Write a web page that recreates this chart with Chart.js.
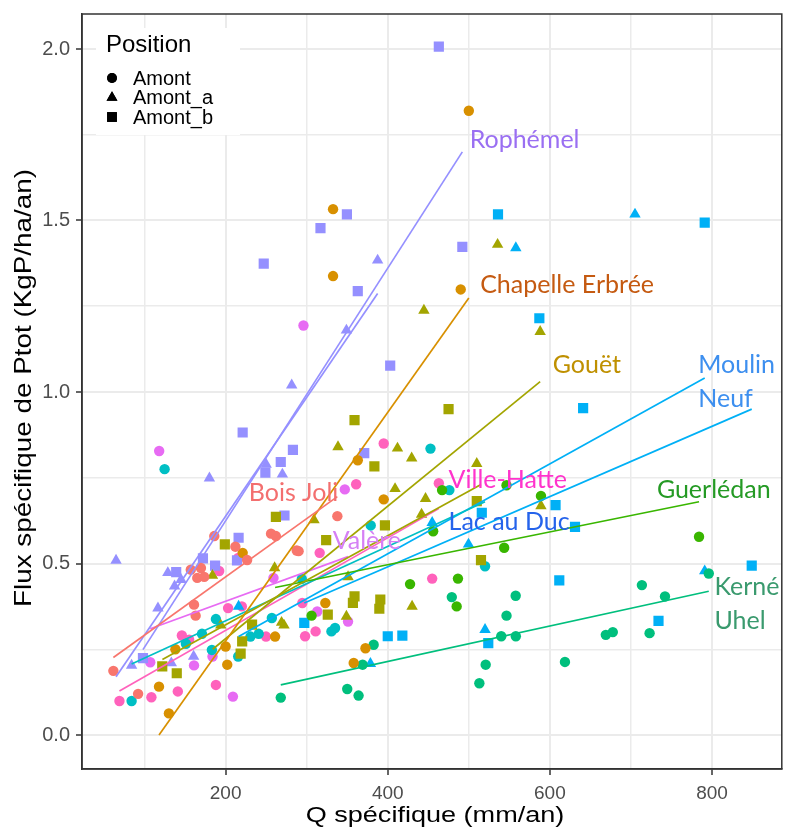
<!DOCTYPE html>
<html>
<head>
<meta charset="utf-8">
<script src="https://cdn.jsdelivr.net/npm/chart.js@4.4.1/dist/chart.umd.min.js"></script>
<style>
  body { margin: 0; background: #fff; }
</style>
</head>
<body>
<canvas id="chart" width="789" height="831"></canvas>
<script>
// points: [Q spécifique, flux Ptot]
const boisJoli = [[61.5,0.187],[92,0.12],[157,0.482],[161,0.38],[163,0.348],[165,0.458],[169.5,0.487],[173.6,0.461],
  [186,0.58],[212,0.549],[226.5,0.51],[256,0.587],[262,0.58],[287.7,0.538],[290,0.536],[337.8,0.638]]
const chapelle = [[117.8,0.141],[130,0.063],[138,0.25],[200,0.258],[202,0.205],[221,0.531],[261,0.287],[323,0.385],
  [332.5,1.533],[332.5,1.338],[358,0.21],[363,0.801],[372.5,0.253],[395,0.687],[490,1.299],[500,1.82]]
const gouetA = [[183.8,0.465],[194,0.32],[260.4,0.487],[269,0.328],[272,0.32],[309,0.627],[338.6,0.84],[349,0.346],
  [351,0.461],[409,0.718],[412,0.836],[429.5,0.807],[430,0.375],[441.7,0.643],[444.6,1.238],[446.6,0.689],
  [509.8,0.791],[535.5,1.43],[588,1.176],[589,0.668]]
const gouetB = [[121.8,0.2],[139.7,0.18],[199,0.556],[218.5,0.237],[220.4,0.273],[232.6,0.322],[262,0.636],[324,0.568],
  [326,0.351],[357,0.385],[359,0.404],[359,0.918],[383.5,0.783],[389.6,0.368],[390.8,0.395],[396.5,0.611],
  [475,0.95],[509.8,0.682],[515,0.51]]
const guerledan = [[306,0.348],[427.5,0.44],[456,0.594],[467,0.714],[485,0.375],[486.6,0.456],[543.6,0.546],
  [546.5,0.728],[589,0.697],[784,0.578]]
const kerneUhel = [[268,0.109],[350,0.134],[364,0.115],[369,0.205],[382.6,0.263],[479,0.402],[513,0.151],[520.8,0.205],
  [540,0.288],[546.5,0.348],[557.8,0.406],[558,0.288],[618.6,0.213],[669,0.292],[677.6,0.3],[713.5,0.437],
  [723,0.297],[742,0.404],[796,0.471]]
const lacAuDuc = [[84,0.099],[124.7,0.775],[151,0.266],[170.8,0.295],[183,0.248],[188,0.338],[215.5,0.229],[230.6,0.287],
  [240.8,0.295],[257,0.341],[294,0.455],[330.5,0.302],[335,0.312],[379,0.611],[452.7,0.835],[476,0.714],[520,0.492]]
const moulinA = [[216,0.375],[378.6,0.208],[454.8,0.619],[499.6,0.556],[520,0.307],[558,1.42],[705,1.518],[791,0.478]]
const moulinB = [[297,0.327],[400,0.288],[418,0.29],[516,0.648],[524,0.268],[536,1.518],[587,1.215],[607,0.67],
  [611.6,0.451],[631,0.607],[641,0.953],[734,0.333],[791,1.494],[849,0.494]]
const rophemelA = [[64.8,0.509],[84,0.203],[116.5,0.37],[128.7,0.473],[133,0.21],[137,0.434],[145,0.453],[160.5,0.229],
  [180,0.749],[250,0.789],[270,0.76],[281.5,1.02],[349,1.18],[387.5,1.384]]
const rophemelB = [[98,0.224],[139,0.475],[172,0.515],[187,0.494],[214,0.509],[216,0.575],[221,0.882],[249,0.765],
  [268,0.796],[272.6,0.64],[283,0.831],[247,1.374],[317,1.478],[349.6,1.518],[363,1.294],[371,0.822],
  [403,1.077],[463,2.007],[492,1.423]]
const valere = [[107,0.212],[118,0.828],[161,0.203],[183.8,0.229],[209,0.112],[259,0.458],[296,1.194],[313,0.36],
  [347,0.716],[351,0.331]]
const villeHatte = [[69,0.099],[108.4,0.11],[141,0.127],[146,0.29],[155,0.278],[188,0.146],[192,0.478],[203,0.37],
  [215.5,0.516],[220,0.375],[249.8,0.287],[294.6,0.385],[298,0.288],[311,0.302],[316,0.531],[361,0.731],
  [395,0.85],[454.8,0.456],[463,0.734]]

const groupPoints = [boisJoli, chapelle, gouetA, gouetB, guerledan, kerneUhel, lacAuDuc, moulinA, moulinB,
  rophemelA, rophemelB, valere, villeHatte]
const groupPosition = ['Amont','Amont','Amont_a','Amont_b','Amont','Amont','Amont','Amont_a','Amont_b',
  'Amont_a','Amont_b','Amont','Amont']
const groupColors = ['#F8766D','#D89000','#A3A500','#A3A500','#39B600','#00BF7D','#00BFC4','#00B0F6','#00B0F6',
  '#9590FF','#9590FF','#E76BF3','#FF62BC']
// regression line ends [x1, y1, x2, y2]
const fitEnds = [
  [61.5,0.226,337.8,0.695], [117.8,0.0,500,1.274], [184,0.25,588,1.03], [122,0.22,515,0.73],
  [261,0.43,784,0.68], [268,0.146,796,0.419], [84,0.207,520,0.68], [216,0.287,791,1.041],
  [297,0.385,849,0.95], [64.8,0.17,387.5,1.287], [98,0.249,492,1.70], [107,0.31,351,0.52],
  [69,0.128,463,0.66]
]

const xTicks = [100,200,300,400,500,600,700,800]
const yTicks = [0,0.25,0.5,0.75,1,1.25,1.5,1.75,2]

const siteLabels = ['Rophémel','Chapelle Erbrée','Gouët','Moulin','Neuf','Guerlédan','Ville-Hatte','Lac au Duc',
  'Bois Joli','Valère','Kerné','Uhel']
const siteLabelX = [501,514,603.5,783,783,732,475,475,228.5,332,803,803]
const siteLabelY = [1.735,1.312,1.079,1.079,0.98,0.714,0.743,0.621,0.706,0.566,0.431,0.332]
const siteLabelColors = ['#9a6ff2','#c55a11','#bf9000','#3d8fef','#3d8fef','#249a24','#ff33cc','#2563eb',
  '#f36f6f','#d580f5','#3a9a6e','#3a9a6e']

const shapes = { Amont: 'circle', Amont_a: 'triangle', Amont_b: 'rect' }
const radii = { circle: 5.2, triangle: 6.6, rect: 7.2 }

const datasets = []
groupPoints.forEach(function (pts, i) {
  const shape = shapes[groupPosition[i]]
  datasets.push({
    data: pts.map(p => ({ x: p[0], y: p[1] })),
    pointStyle: shape,
    pointRadius: radii[shape],
    backgroundColor: groupColors[i],
    borderWidth: 0,
    showLine: false,
    order: 2
  })
})
fitEnds.forEach(function (f, i) {
  datasets.push({
    data: [{ x: f[0], y: f[1] }, { x: f[2], y: f[3] }],
    showLine: true,
    borderColor: groupColors[i],
    borderWidth: 1.7,
    pointRadius: 0,
    order: 1
  })
})

const isMajorX = v => v % 200 === 0
const isMajorY = v => Math.abs(v * 2 - Math.round(v * 2)) < 1e-9

// stretched text, the figure's titles are wider than plain Arial
function stretchedText(ctx, text, x, y, rot, sx) {
  ctx.save()
  ctx.translate(x, y)
  ctx.rotate(rot)
  ctx.scale(sx, 1)
  ctx.fillText(text, 0, 0)
  ctx.restore()
}

const extras = {
  id: 'extras',
  afterDatasetsDraw(chart) {
    const ctx = chart.ctx
    const xs = chart.scales.x
    const ys = chart.scales.y
    const area = chart.chartArea
    ctx.save()

    // site labels
    ctx.font = '25px Lato'
    ctx.textBaseline = 'middle'
    ctx.textAlign = 'left'
    siteLabels.forEach(function (t, i) {
      ctx.fillStyle = siteLabelColors[i]
      ctx.fillText(t, xs.getPixelForValue(siteLabelX[i]), ys.getPixelForValue(siteLabelY[i]))
    })

    // legend box
    ctx.fillStyle = '#fff'
    ctx.fillRect(96, 28, 144, 107)
    ctx.fillStyle = '#000'
    ctx.font = '24px "Liberation Sans"'
    ctx.fillText('Position', 106, 45)
    ctx.font = '20px "Liberation Sans"'
    const entries = ['Amont', 'Amont_a', 'Amont_b']
    entries.forEach(function (t, k) {
      const cy = 78 + k * 19.5
      Chart.helpers.drawPoint(ctx, { pointStyle: shapes[t], radius: radii[shapes[t]] - 0.3, borderWidth: 0 }, 112, cy)
      ctx.fill()
      ctx.fillText(t, 133, cy + 1)
    })

    // panel border
    ctx.strokeStyle = '#333333'
    ctx.lineWidth = 1.5
    ctx.strokeRect(area.left, area.top, area.right - area.left, area.bottom - area.top)

    // axis titles
    ctx.fillStyle = '#000'
    ctx.textAlign = 'center'
    ctx.textBaseline = 'alphabetic'
    ctx.font = '22px "Liberation Sans"'
    stretchedText(ctx, 'Q spécifique (mm/an)', 435, 822, 0, 1.23)
    ctx.font = '24px "Liberation Sans"'
    stretchedText(ctx, 'Flux spécifique de Ptot (KgP/ha/an)', 31, 388, -Math.PI / 2, 1.16)
    ctx.restore()
  }
}

new Chart(document.getElementById('chart'), {
  type: 'scatter',
  data: { datasets: datasets },
  options: {
    responsive: false,
    animation: false,
    layout: { padding: { top: 14, right: 1, left: 0, bottom: 0 } },
    plugins: { legend: { display: false }, tooltip: { enabled: false } },
    scales: {
      x: {
        type: 'linear',
        min: 22.8,
        max: 886.1,
        afterBuildTicks: s => { s.ticks = xTicks.map(v => ({ value: v })) },
        afterFit: s => { s.height = 62; s.paddingLeft = 0; s.paddingRight = 0 },
        ticks: {
          callback: v => isMajorX(v) ? String(v) : '',
          color: '#4D4D4D',
          font: { family: 'Liberation Sans', size: 19 },
          padding: 7,
          maxRotation: 0
        },
        grid: {
          color: '#EBEBEB',
          lineWidth: c => isMajorX(c.tick.value) ? 2 : 1.5,
          tickColor: c => isMajorX(c.tick.value) ? '#333333' : 'rgba(0,0,0,0)',
          tickLength: 6,
          tickWidth: 1.5
        },
        border: { color: '#333333', width: 1.5 }
      },
      y: {
        type: 'linear',
        min: -0.0991,
        max: 2.102,
        afterBuildTicks: s => { s.ticks = yTicks.map(v => ({ value: v })) },
        afterFit: s => { s.width = 82; s.paddingTop = 0; s.paddingBottom = 0 },
        ticks: {
          callback: v => isMajorY(v) ? v.toFixed(1) : '',
          color: '#4D4D4D',
          font: { family: 'Liberation Sans', size: 20 },
          padding: 6
        },
        grid: {
          color: '#EBEBEB',
          lineWidth: c => isMajorY(c.tick.value) ? 2 : 1.5,
          tickColor: c => isMajorY(c.tick.value) ? '#333333' : 'rgba(0,0,0,0)',
          tickLength: 6,
          tickWidth: 1.5
        },
        border: { color: '#333333', width: 1.5 }
      }
    }
  },
  plugins: [extras]
})
</script>
</body>
</html>
